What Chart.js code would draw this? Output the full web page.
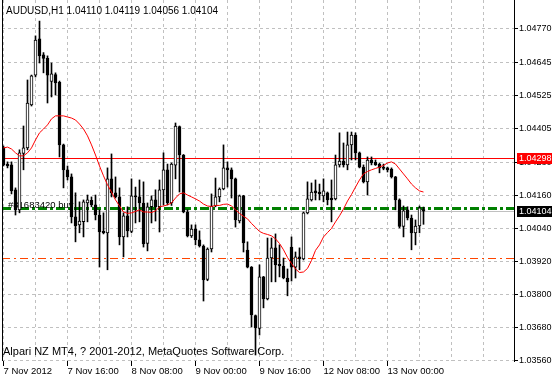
<!DOCTYPE html>
<html>
<head>
<meta charset="utf-8">
<script src="https://cdn.jsdelivr.net/npm/chart.js@4.4.0/dist/chart.umd.min.js"></script>
<style>
html, body { margin: 0; padding: 0; background: #fff; }
#wrap { width: 552px; height: 380px; }
</style>
</head>
<body>
<div id="wrap"><canvas id="chart" width="552" height="380"></canvas></div>
<script>
// AUDUSD H1 bars, 7 Nov 2012 00:00 onwards (weekend gap after bar 71)
const open = [
  1.04335, 1.04276, 1.04273, 1.04182, 1.04109, 1.04315, 1.04335, 1.04492, 1.04601, 1.04733,
  1.04675, 1.04662, 1.04578, 1.04603, 1.04574, 1.04346, 1.04255, 1.04229, 1.04083, 1.04054,
  1.04066, 1.04134, 1.04144, 1.04127, 1.04090, 1.04030, 1.04025, 1.04222, 1.04171, 1.04156,
  1.04010, 1.04087, 1.04030, 1.04160, 1.04156, 1.04134, 1.03986, 1.04120, 1.04145, 1.04120,
  1.04182, 1.04255, 1.04134, 1.04272, 1.04413, 1.04309, 1.04101, 1.04014, 1.04039, 1.03999,
  1.03977, 1.03855, 1.03966, 1.04123, 1.04156, 1.04185, 1.04262, 1.04255, 1.04222, 1.04068,
  1.04160, 1.03962, 1.03900, 1.03723, 1.03676, 1.03864, 1.03784, 1.03933, 1.03970, 1.03910,
  1.03904, 1.03860, 1.03973, 1.03900, 1.03937, 1.03930, 1.04098, 1.04145, 1.04178, 1.04174,
  1.04160, 1.04171, 1.04152, 1.04149, 1.04273, 1.04287, 1.04273, 1.04346, 1.04382, 1.04317,
  1.04265, 1.04211, 1.04291, 1.04282, 1.04275, 1.04265, 1.04262, 1.04258, 1.04229, 1.04145,
  1.04048, 1.04109, 1.04079, 1.04025, 1.04050, 1.04110
];
const high = [
  1.04342, 1.04284, 1.04284, 1.04189, 1.04328, 1.04415, 1.04583, 1.04601, 1.04744, 1.04798,
  1.04683, 1.04671, 1.04645, 1.04609, 1.04579, 1.04349, 1.04269, 1.04240, 1.04171, 1.04138,
  1.04145, 1.04163, 1.04156, 1.04163, 1.04109, 1.04098, 1.04262, 1.04313, 1.04229, 1.04189,
  1.04098, 1.04120, 1.04222, 1.04192, 1.04218, 1.04211, 1.04134, 1.04160, 1.04182, 1.04218,
  1.04317, 1.04276, 1.04280, 1.04426, 1.04415, 1.04311, 1.04109, 1.04054, 1.04054, 1.04032,
  1.03981, 1.03970, 1.04167, 1.04225, 1.04189, 1.04346, 1.04284, 1.04262, 1.04225, 1.04163,
  1.04162, 1.03992, 1.03902, 1.03725, 1.03908, 1.03866, 1.04006, 1.04006, 1.04021, 1.03981,
  1.03933, 1.03893, 1.04010, 1.03955, 1.03970, 1.04101, 1.04211, 1.04207, 1.04218, 1.04203,
  1.04222, 1.04174, 1.04218, 1.04309, 1.04390, 1.04353, 1.04393, 1.04393, 1.04390, 1.04320,
  1.04273, 1.04302, 1.04302, 1.04291, 1.04280, 1.04276, 1.04265, 1.04262, 1.04231, 1.04149,
  1.04123, 1.04120, 1.04090, 1.04072, 1.04123, 1.04119
];
const low = [
  1.04269, 1.04262, 1.04167, 1.04090, 1.04098, 1.04255, 1.04328, 1.04488, 1.04594, 1.04645,
  1.04609, 1.04499, 1.04521, 1.04528, 1.04302, 1.04189, 1.04218, 1.04061, 1.03992, 1.04025,
  1.04010, 1.04065, 1.04120, 1.04072, 1.03900, 1.04021, 1.03890, 1.04156, 1.04152, 1.03981,
  1.03937, 1.04010, 1.04025, 1.04061, 1.04065, 1.03973, 1.03959, 1.04061, 1.04068, 1.04028,
  1.04127, 1.04127, 1.04125, 1.04222, 1.04174, 1.04098, 1.04010, 1.04008, 1.03981, 1.03973,
  1.03776, 1.03850, 1.03955, 1.04120, 1.04138, 1.04182, 1.04192, 1.04152, 1.04046, 1.04061,
  1.03955, 1.03897, 1.03681, 1.03579, 1.03652, 1.03751, 1.03780, 1.03846, 1.03846, 1.03864,
  1.03857, 1.03795, 1.03849, 1.03860, 1.03890, 1.03926, 1.04094, 1.04141, 1.04145, 1.04145,
  1.04138, 1.04127, 1.04065, 1.04145, 1.04265, 1.04265, 1.04255, 1.04291, 1.04291, 1.04262,
  1.04207, 1.04163, 1.04273, 1.04271, 1.04244, 1.04255, 1.04247, 1.04225, 1.04109, 1.04043,
  1.04010, 1.04072, 1.03963, 1.03981, 1.04025, 1.04056
];
const close = [
  1.04273, 1.04269, 1.04178, 1.04109, 1.04317, 1.04335, 1.04499, 1.04598, 1.04729, 1.04671,
  1.04662, 1.04601, 1.04605, 1.04572, 1.04346, 1.04255, 1.04229, 1.04083, 1.04050, 1.04068,
  1.04138, 1.04145, 1.04127, 1.04090, 1.04028, 1.04025, 1.04222, 1.04171, 1.04156, 1.04010,
  1.04087, 1.04032, 1.04160, 1.04156, 1.04134, 1.03984, 1.04120, 1.04145, 1.04120, 1.04182,
  1.04255, 1.04134, 1.04276, 1.04415, 1.04309, 1.04101, 1.04014, 1.04039, 1.03999, 1.03977,
  1.03853, 1.03966, 1.04123, 1.04156, 1.04185, 1.04262, 1.04255, 1.04222, 1.04072, 1.04160,
  1.03988, 1.03900, 1.03725, 1.03678, 1.03864, 1.03784, 1.03933, 1.03970, 1.03908, 1.03904,
  1.03860, 1.03846, 1.03900, 1.03937, 1.03930, 1.04098, 1.04149, 1.04174, 1.04171, 1.04167,
  1.04178, 1.04145, 1.04145, 1.04273, 1.04287, 1.04273, 1.04346, 1.04382, 1.04317, 1.04265,
  1.04211, 1.04291, 1.04280, 1.04273, 1.04262, 1.04260, 1.04255, 1.04229, 1.04145, 1.04048,
  1.04105, 1.04079, 1.04025, 1.04050, 1.04116, 1.04104
];
// red moving average
const ma = [
  1.04335, 1.04338, 1.04331, 1.04317, 1.04306, 1.04306, 1.04317, 1.04335, 1.04364, 1.04390,
  1.04404, 1.04419, 1.04441, 1.04452, 1.04452, 1.04452, 1.04448, 1.04444, 1.04437, 1.04422,
  1.04404, 1.04379, 1.04346, 1.04309, 1.04269, 1.04233, 1.04200, 1.04174, 1.04145, 1.04123,
  1.04101, 1.04096, 1.04098, 1.04103, 1.04109, 1.04101, 1.04101, 1.04099, 1.04105, 1.04120,
  1.04123, 1.04127, 1.04134, 1.04152, 1.04167, 1.04171, 1.04163, 1.04156, 1.04149, 1.04141,
  1.04130, 1.04123, 1.04121, 1.04125, 1.04125, 1.04129, 1.04130, 1.04123, 1.04109, 1.04096,
  1.04085, 1.04076, 1.04059, 1.04045, 1.04030, 1.04023, 1.04019, 1.04014, 1.04003, 1.03986,
  1.03963, 1.03935, 1.03913, 1.03893, 1.03880, 1.03882, 1.03895, 1.03924, 1.03961, 1.03981,
  1.04010, 1.04026, 1.04041, 1.04065, 1.04087, 1.04112, 1.04141, 1.04165, 1.04192, 1.04218,
  1.04240, 1.04249, 1.04255, 1.04260, 1.04265, 1.04271, 1.04280, 1.04284, 1.04276, 1.04258,
  1.04240, 1.04222, 1.04203, 1.04189, 1.04178, 1.04174
];

const priceTicks = [1.03560, 1.03680, 1.03800, 1.03920, 1.04040, 1.04160, 1.04280, 1.04405, 1.04525, 1.04645, 1.04770];
const timeTickBars = [0, 16, 32, 48, 64, 80, 96];
const timeTickLabels = ['7 Nov 2012', '7 Nov 16:00', '8 Nov 08:00', '9 Nov 00:00', '9 Nov 16:00', '12 Nov 08:00', '13 Nov 00:00'];

const titleText = 'AUDUSD,H1 1.04110 1.04119 1.04056 1.04104';
const footerText = 'Alpari NZ MT4, ? 2001-2012, MetaQuotes Software Corp.';
const orderText = '#81683420 buy';
const levelPrice = 1.04298;
const bidPrice = 1.04104;
const orderPrice = 1.04110;
const stopPrice = 1.03930;

const slots = 128;     // visible bar slots, 4px each
const gridEvery = 8;
const FONT = 'Liberation Sans, Arial, sans-serif';

function timeLabel(v) {
    const k = timeTickBars.indexOf(v);
    return k < 0 ? '' : timeTickLabels[k];
}

const gridBars = [];
for (let b = 0; b < slots; b += gridEvery) gridBars.push(b);

function hline(ctx, area, py, color, width, dash) {
    const yy = width % 2 === 1 ? Math.round(py - 0.5) + 0.5 : Math.round(py);
    ctx.save();
    ctx.strokeStyle = color;
    ctx.lineWidth = width;
    ctx.setLineDash(dash);
    ctx.beginPath();
    ctx.moveTo(area.left, yy);
    ctx.lineTo(area.right, yy);
    ctx.stroke();
    ctx.restore();
}

function priceBox(ctx, area, py, text, bg) {
    const top = Math.round(py) - 5;
    ctx.fillStyle = bg;
    ctx.fillRect(area.right + 3, top, 552 - area.right - 3, 11);
    ctx.fillStyle = '#fff';
    ctx.font = '9px ' + FONT;
    ctx.textBaseline = 'middle';
    ctx.textAlign = 'left';
    ctx.fillText(text, area.right + 5, top + 6);
}

const overlay = {
    id: 'overlay',
    beforeDatasetsDraw(chart) {
        const {ctx, chartArea: area, scales: {y}} = chart;
        hline(ctx, area, y.getPixelForValue(levelPrice), '#ff0000', 1, []);
        hline(ctx, area, y.getPixelForValue(bidPrice), '#c0c0c0', 1, []);
        hline(ctx, area, y.getPixelForValue(orderPrice) - 1, '#008000', 3, [9, 3, 3, 3]);
        hline(ctx, area, y.getPixelForValue(stopPrice), '#ff4500', 1, [8, 4, 2, 4]);

        ctx.save();
        ctx.fillStyle = '#000';
        ctx.font = '9.5px ' + FONT;
        ctx.textBaseline = 'alphabetic';
        ctx.fillText(orderText, 8, y.getPixelForValue(orderPrice) - 2);
        ctx.restore();
    },
    afterDraw(chart) {
        const {ctx, chartArea: area, scales: {y}} = chart;
        ctx.save();
        // left frame line
        ctx.strokeStyle = '#000';
        ctx.lineWidth = 1;
        ctx.beginPath();
        ctx.moveTo(area.left + 0.5, area.top);
        ctx.lineTo(area.left + 0.5, area.bottom);
        ctx.stroke();

        ctx.fillStyle = '#000';
        ctx.textAlign = 'left';
        ctx.textBaseline = 'middle';
        ctx.font = '10px ' + FONT;
        ctx.fillText(titleText, 6, 11);
        ctx.font = '11px ' + FONT;
        ctx.fillText(footerText, 3, 352);

        priceBox(ctx, area, y.getPixelForValue(levelPrice), levelPrice.toFixed(5), '#ff0000');
        priceBox(ctx, area, y.getPixelForValue(bidPrice), bidPrice.toFixed(5), '#000000');
        ctx.restore();
    }
};

const idx = open.map((_, i) => i);

new Chart(document.getElementById('chart'), {
    type: 'bar',
    data: {
        datasets: [
            {
                type: 'line',
                label: 'MA',
                data: idx.map(i => ({x: i, y: ma[i]})),
                borderColor: '#ff0000',
                borderWidth: 1,
                pointRadius: 0,
                tension: 0,
                order: 0
            },
            {
                label: 'body',
                data: idx.map(i => ({x: i, y: [open[i], close[i]]})),
                backgroundColor: idx.map(i => close[i] >= open[i] ? '#ffffff' : '#000000'),
                borderColor: '#000000',
                borderWidth: 1,
                borderSkipped: false,
                minBarLength: 1,
                grouped: false,
                barThickness: 3,
                order: 1
            },
            {
                label: 'wick',
                data: idx.map(i => ({x: i, y: [low[i], high[i]]})),
                backgroundColor: '#000000',
                borderWidth: 0,
                grouped: false,
                barThickness: 1,
                order: 2
            }
        ]
    },
    options: {
        responsive: false,
        animation: false,
        devicePixelRatio: 1,
        layout: { padding: { left: 2, top: 0, right: 0, bottom: 0 } },
        plugins: { legend: { display: false }, tooltip: { enabled: false } },
        scales: {
            x: {
                type: 'linear',
                offset: false,
                min: -0.375,
                max: slots - 0.375,
                afterBuildTicks: s => { s.ticks = gridBars.map(v => ({value: v})); },
                afterFit: s => { s.height = 19; s.paddingLeft = 0; s.paddingRight = 0; },
                ticks: {
                    autoSkip: false,
                    maxRotation: 0,
                    align: 'start',
                    padding: 0,
                    color: '#000',
                    font: { family: FONT, size: 9.5 },
                    callback: v => timeLabel(v)
                },
                grid: {
                    offset: false,
                    color: '#c0c0c0',
                    tickLength: 5,
                    tickColor: c => (c.tick && timeLabel(c.tick.value)) ? '#000' : 'rgba(0,0,0,0)'
                },
                border: { display: false, dash: [3, 3] }
            },
            y: {
                position: 'right',
                min: 1.03557,
                max: 1.04875,
                afterBuildTicks: s => { s.ticks = priceTicks.map(v => ({value: v})); },
                afterFit: s => { s.width = 38; s.paddingTop = 0; s.paddingBottom = 0; },
                ticks: {
                    padding: 1,
                    color: '#000',
                    font: { family: FONT, size: 9 },
                    callback: v => v.toFixed(5)
                },
                grid: { color: '#c0c0c0', tickLength: 4, tickColor: '#000' },
                border: { display: true, color: '#000', dash: [3, 3] }
            }
        }
    },
    plugins: [overlay]
});
</script>
</body>
</html>
